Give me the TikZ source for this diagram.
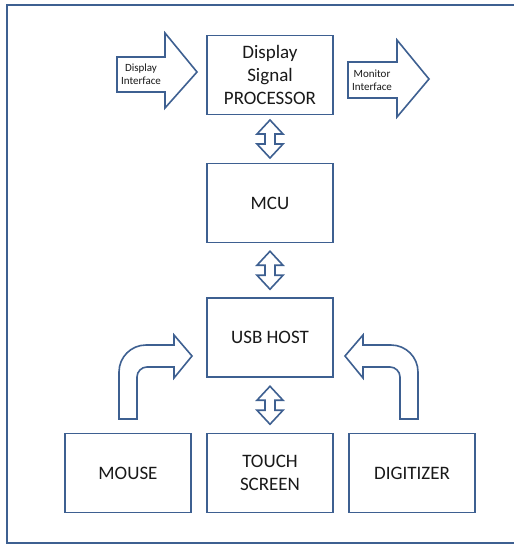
\documentclass[tikz,border=0pt]{standalone}
\usepackage{fontspec}
\setmainfont{Carlito}
\usetikzlibrary{calc}
\definecolor{lineblue}{RGB}{62,96,145}
\definecolor{txt}{RGB}{25,25,25}
\tikzset{
  box/.style={draw=lineblue, line width=1.8pt, fill=white, minimum width=126pt, minimum height=79pt,
    inner sep=0pt, align=center, font=\fontsize{19}{23}\selectfont, text=txt},
  blk/.style={draw=lineblue, line width=1.6pt, fill=white, line join=miter},
  small/.style={font=\fontsize{11}{13}\selectfont, align=center, text=txt, inner sep=0pt},
  dblarr/.pic={
    \draw[blk] (0,-19) -- (13,-5) -- (5,-5) -- (5,5) -- (13,5) -- (0,19) -- (-13,5) -- (-5,5) -- (-5,-5) -- (-13,-5) -- cycle;
  }
}
\begin{document}
\begin{tikzpicture}[x=1pt,y=-1pt]
\useasboundingbox (0,0) rectangle (514,544);
\clip (0,0) rectangle (514,544);
\fill[white] (0,0) rectangle (514,544);
\draw[lineblue, line width=1.8pt] (7,5) rectangle (540,543);

% boxes
\node[box] (dsp) at (270,75) {Display\\Signal\\PROCESSOR};
\node[box] (mcu) at (270,203) {MCU};
\node[box] (usb) at (270,337.5) {USB HOST};
\node[box] (mouse) at (128,473) {MOUSE};
\node[box] (touch) at (270,473) {TOUCH\\SCREEN};
\node[box] (digi) at (412,473) {DIGITIZER};

% straight block arrows
\draw[blk] (117,57) -- (165,57) -- (165,33) -- (197,72) -- (165,108) -- (165,92) -- (117,92) -- cycle;
\node[small] (din) at (141,74) {Display\\Interface};
\draw[blk] (348,62) -- (397,62) -- (397,40) -- (429,79) -- (397,117) -- (397,98) -- (348,98) -- cycle;
\node[small] (mon) at (372,80) {Monitor\\Interface};

% double arrows
\coordinate (a1) at ($(dsp.south)!0.5!(mcu.north)$);
\coordinate (a2) at ($(mcu.south)!0.5!(usb.north)$);
\coordinate (a3) at ($(usb.south)!0.5!(touch.north)$);
\pic at (a1) {dblarr};
\pic at (a2) {dblarr};
\pic at (a3) {dblarr};

% bent arrows
\draw[blk] (119,419) -- (119,372) .. controls (119,357.1) and (131.1,345) .. (146,345) -- (174,345) -- (174,335)
  -- (192,356) -- (174,378) -- (174,367) -- (147,367) .. controls (141.5,367) and (137,371.5) .. (137,377)
  -- (137,419) -- cycle;
\draw[blk] (418,419) -- (418,372) .. controls (418,357.1) and (405.9,345) .. (391,345) -- (363,345) -- (363,335)
  -- (345,356) -- (363,378) -- (363,367) -- (390,367) .. controls (395.5,367) and (400,371.5) .. (400,377)
  -- (400,419) -- cycle;
\end{tikzpicture}
\end{document}
